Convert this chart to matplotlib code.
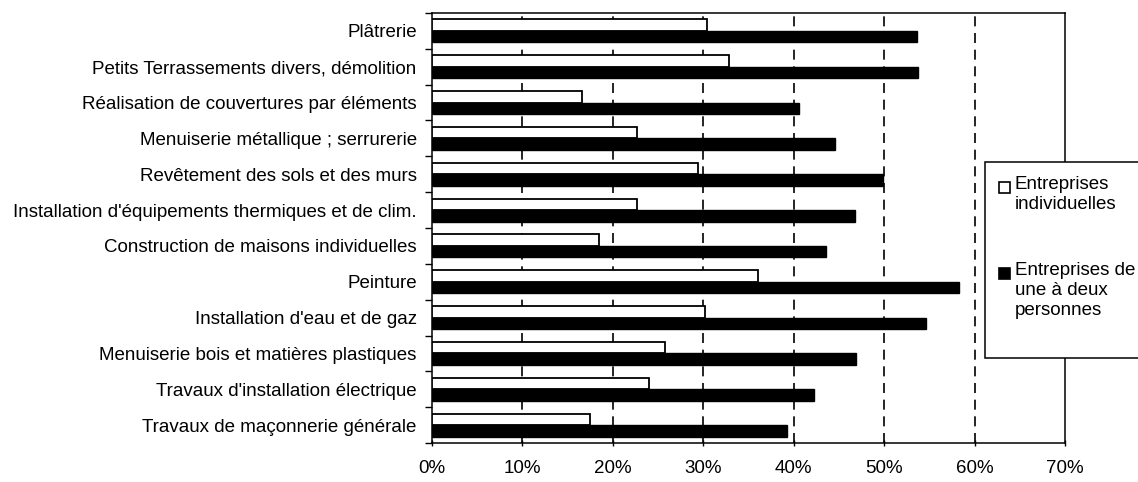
import numpy as np
import matplotlib.pyplot as plt
from matplotlib.patches import Rectangle

plt.rcParams['font.family'] = ['Liberation Sans', 'DejaVu Sans']

# categories, top to bottom as in the chart
categories = [
    "Plâtrerie",
    "Petits Terrassements divers, démolition",
    "Réalisation de couvertures par éléments",
    "Menuiserie métallique ; serrurerie",
    "Revêtement des sols et des murs",
    "Installation d'équipements thermiques et de clim.",
    "Construction de maisons individuelles",
    "Peinture",
    "Installation d'eau et de gaz",
    "Menuiserie bois et matières plastiques",
    "Travaux d'installation électrique",
    "Travaux de maçonnerie générale",
]
# share (%) for each series
indiv = [30.4, 32.8, 16.6, 22.7, 29.4, 22.7, 18.5, 36.1, 30.2, 25.8, 24.0, 17.5]
une_deux = [53.6, 53.7, 40.6, 44.6, 49.9, 46.8, 43.6, 58.3, 54.6, 46.9, 42.2, 39.3]
series_labels = ["Entreprises\nindividuelles", "Entreprises de\nune à deux\npersonnes"]
xticks = [0, 10, 20, 30, 40, 50, 60, 70]

fig = plt.figure(figsize=(11.38, 4.82), dpi=100)
ax = fig.add_axes([432 / 1138, 1 - 443 / 482, (1065 - 432) / 1138, (443 - 13) / 482])

y = np.arange(len(categories))
h = 0.32
ax.barh(y - h / 2, indiv, height=h, color='white', edgecolor='black', linewidth=1.3, zorder=3)
ax.barh(y + h / 2, une_deux, height=h, color='black', edgecolor='black', linewidth=1, zorder=3)

ax.set_xlim(0, 70)
ax.set_ylim(len(categories) - 0.5, -0.5)

ax.set_xticks(xticks)
ax.set_xticklabels([f"{t}%" for t in xticks], fontsize=13.5)
ax.set_yticks(y)
ax.set_yticklabels(categories, fontsize=13.5)
ax.tick_params(axis='y', which='major', length=0, pad=11)
ax.set_yticks(np.arange(len(categories) + 1) - 0.5, minor=True)
ax.tick_params(axis='y', which='minor', length=5, width=1, direction='out')
ax.tick_params(axis='x', length=5, width=1, direction='inout', pad=10)

for t in xticks[1:-1]:
    ax.axvline(t, color='black', linewidth=1.2, linestyle=(0, (6, 4)), zorder=1)

for s in ax.spines.values():
    s.set_color('black')
    s.set_linewidth(1.1)

# legend box drawn by hand so markers line up with first text line
W, H = 1138, 482
fig.patches.append(Rectangle((985 / W, 1 - 358 / H), 200 / W, 196 / H, transform=fig.transFigure,
                             facecolor='white', edgecolor='black', linewidth=1.1, zorder=5))
for ytop, label, fc in [(187, series_labels[0], 'white'), (273, series_labels[1], 'black')]:
    fig.patches.append(Rectangle((999 / W, 1 - (ytop + 6) / H), 11 / W, 11 / H, transform=fig.transFigure,
                                 facecolor=fc, edgecolor='black', linewidth=1.2, zorder=6))
    fig.text(1015 / W, 1 - (ytop - 11) / H, label, fontsize=13.5, va='top', ha='left',
             linespacing=1.22, zorder=7)

fig.savefig('out.png', dpi=100)
